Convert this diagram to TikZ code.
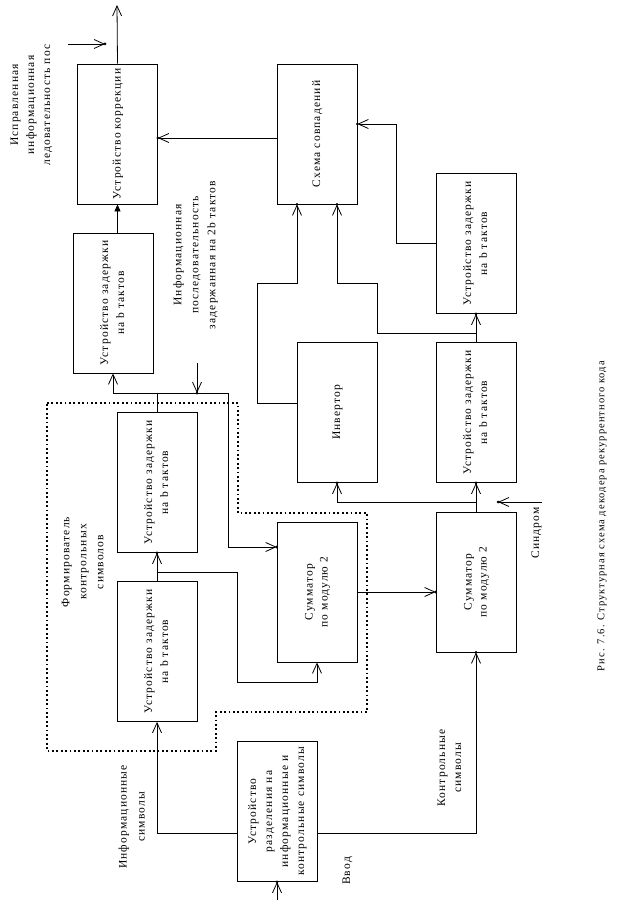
\documentclass[tikz,border=0pt]{standalone}
\usepackage{fontspec}
\setmainfont{Liberation Serif}[LetterSpace=10]
\usepackage{graphicx}
\usetikzlibrary{arrows.meta}
\newcommand\rtx[2][16]{\rotatebox{90}{\fontsize{11.5}{#1}\selectfont\begin{tabular}{@{}c@{}}#2\end{tabular}}}
\begin{document}
\begin{tikzpicture}[x=1pt,y=-1pt, line width=0.8pt,
  box/.style={draw, minimum width=80pt, minimum height=140pt, inner sep=0pt, line width=0.8pt},
  arr/.style={-{Straight Barb[length=10pt,width=9pt]}},
  farr/.style={-{Triangle[length=7pt,width=6pt]}},
  tipdot/.style={circle, fill, inner sep=0pt, minimum size=3pt},
  lbl/.style={inner sep=0pt},
  frame/.style={line width=1.8pt, dash pattern=on 1.8pt off 2.6pt}]
\useasboundingbox (0,0) rectangle (623,912);
\fill[white] (0,0) rectangle (623,912);
% boxes
\node[box] (corr) at (117.5,134) {\rtx{Устройство коррекции}};
\node[box] (d1) at (113,303) {\rtx{Устройство задержки\\на b тактов}};
\node[box] (sch) at (317,134) {\rtx{Схема совпадений}};
\node[box] (d3) at (476,243.5) {\rtx{Устройство задержки\\на b тактов}};
\node[box] (inv) at (337,412.5) {\rtx{Инвертор}};
\node[box] (d4) at (476,412.5) {\rtx{Устройство задержки\\на b тактов}};
\node[box] (fa) at (157,482.5) {\rtx{Устройство задержки\\на b тактов}};
\node[box] (fb) at (157,651.5) {\rtx{Устройство задержки\\на b тактов}};
\node[box] (sum1) at (317,592) {\rtx[15]{Сумматор\\по модулю 2}};
\node[box] (sum2) at (476,582) {\rtx[15]{Сумматор\\по модулю 2}};
\node[box] (split) at (277,811.5) {\rtx[16]{Устройство\\разделения на\\информационные и\\контрольные символы}};
% dotted frame
\draw[frame] (47,403) -- (238,403) -- (238,513) -- (367,513) -- (367,712) -- (216,712) -- (216,751) -- (47,751) -- cycle;
% coordinates
\coordinate (outT) at (117,5);
\coordinate (inLs) at (68,44);
\coordinate (inLe) at (105,44);
\coordinate (jA) at (157,393);
\coordinate (cB) at (228,547);
\coordinate (in2b) at (197,363);
\coordinate (jB) at (157,572);
\coordinate (cC) at (237,682);
\coordinate (vin) at (277,900);
\coordinate (jC) at (476,502);
\coordinate (synS) at (542,502);
\coordinate (synE) at (498,502);
\coordinate (jD) at (476,333);
\coordinate (cE) at (377,283);
\coordinate (cG) at (257,283);
\coordinate (cF) at (396,124);
% connectors
\draw[arr] (corr.north) -- (outT);
\draw[arr] (inLs) -- (inLe) node[tipdot]{};
\draw[arr] ([yshift=-4pt]sch.west) -- ([yshift=-4pt]corr.east) node[tipdot]{};
\draw[farr] (d1.north -| corr.south) -- (corr.south);
\draw (fa.north) -- (jA);
\draw[arr] (jA) -| (d1.south);
\draw[arr] (jA) -| (cB) -- (cB -| sum1.west) node[tipdot]{};
\draw[arr] (in2b) -- (in2b |- jA) node[tipdot]{};
\draw[arr] (fb.north) -- (fa.south) node[tipdot]{};
\draw[arr] (jB) -| (cC) -| (sum1.south);
\draw[arr] (sum1.east) -- (sum1.east -| sum2.west) node[tipdot]{};
\draw[arr] ([yshift=-21.5pt]split.west) -| (fb.south);
\draw[arr] ([yshift=-21.5pt]split.east) -| (sum2.south) node[tipdot]{};
\draw[arr] (vin) -- (split.south) node[tipdot]{};
\draw (sum2.north) -- (jC);
\draw[arr] (jC) -- (d4.south) node[tipdot]{};
\draw[arr] (jC) -| (inv.south) node[tipdot]{};
\draw[arr] (synS) -- (synE) node[tipdot]{};
\draw (d4.north) -- (jD);
\draw[arr] (jD) -- (d3.south) node[tipdot]{};
\draw[arr] (jD) -| (cE) -| ([xshift=20pt]sch.south) node[tipdot]{};
\draw[arr] ([yshift=9.5pt]inv.west) -| (cG) -| ([xshift=-20pt]sch.south) node[tipdot]{};
\draw[arr] (d3.west) -| (cF) -- (cF -| sch.east) node[tipdot]{};
% labels
\node[lbl] (lfix) at (31,105) {\rtx[16]{Исправленная\\информационная\\ледовательность пос}};
\node[lbl] (l2b) at (195,255) {\rtx[17]{Информационная\\последовательность\\задержанная на 2b тактов}};
\node[lbl] (lform) at (83,562) {\rtx[17]{Формирователь\\контрольных\\символов}};
\node[lbl] (linf) at (132,817) {\rtx[18]{Информационные\\символы}};
\node[lbl] (lctl) at (450,768) {\rtx[16]{Контрольные\\символы}};
\node[lbl] (lin) at (347,871) {\rtx{Ввод}};
\node[lbl] (lsyn) at (536,533) {\rtx{Синдром}};
\node[lbl] (cap) at (602,516) {\rotatebox{90}{\fontsize{10.5}{12}\selectfont Рис. 7.6. Структурная схема декодера рекуррентного кода}};
\end{tikzpicture}
\end{document}
